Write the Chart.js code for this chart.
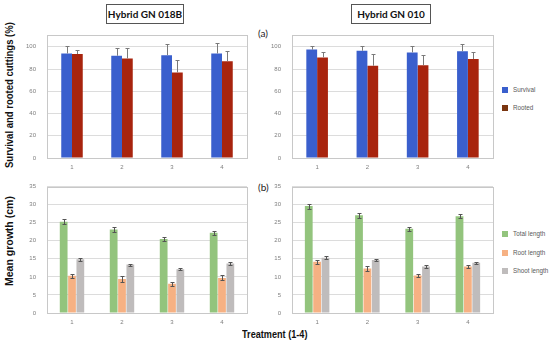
<!DOCTYPE html>
<html lang="en">
  <head>
    <meta charset="UTF-8" />
    <title>Survival and growth of cuttings</title>
    <script src="https://cdn.jsdelivr.net/npm/chart.js"></script>
    <style>
      body { margin: 0; background: #fff; width: 550px; height: 343px; position: relative; overflow: hidden; font-family: "Liberation Sans", Arial, sans-serif; }
      canvas { position: absolute; }
      .title-box { position: absolute; border: 1px solid #555; background: #fff; font: bold 10px Lato, "Liberation Sans", sans-serif; color: #111; text-align: center; box-sizing: border-box; line-height: 18px; white-space: nowrap; }
      .tag { position: absolute; font: 10px Lato, "Liberation Sans", sans-serif; color: #222; }
      .ylab { position: absolute; font: bold 11px "Liberation Sans", Arial, sans-serif; color: #111; white-space: nowrap; transform-origin: 0 0; line-height: 12px; }
      .xlab { position: absolute; font: bold 11px "Liberation Sans", Arial, sans-serif; color: #111; white-space: nowrap; transform-origin: 0 0; transform: scaleX(0.83); }
      .leg { position: absolute; font: 6.3px "Liberation Sans", Arial, sans-serif; color: #595959; white-space: nowrap; }
      .leg span { display: inline-block; width: 6px; height: 6px; margin-right: 5px; vertical-align: -1px; }
    </style>
  </head>
  <body>
    <div class="title-box" style="left:106px;top:4px;width:78px;height:20px;">Hybrid GN 018B</div>
    <div class="title-box" style="left:351px;top:4px;width:80px;height:20px;">Hybrid GN 010</div>
    <div class="tag" style="left:258px;top:27px;">(a)</div>
    <div class="tag" style="left:258px;top:181px;">(b)</div>
    <div class="ylab" style="left:3px;top:168px;transform:rotate(-90deg) scaleX(0.865);">Survival and rooted cuttings (%)</div>
    <div class="ylab" style="left:3px;top:286px;transform:rotate(-90deg) scaleX(0.955);">Mean growth (cm)</div>
    <div class="xlab" style="left:242px;top:328px;">Treatment (1-4)</div>

    <div class="leg" style="left:502px;top:86px;"><span style="background:#3a5fcd"></span>Survival</div>
    <div class="leg" style="left:502px;top:104px;"><span style="background:#7a3510"></span>Rooted</div>
    <div class="leg" style="left:502px;top:230px;"><span style="background:#93c47d"></span>Total length</div>
    <div class="leg" style="left:502px;top:249px;"><span style="background:#f6b183"></span>Root length</div>
    <div class="leg" style="left:502px;top:267px;"><span style="background:#bfbcbc"></span>Shoot length</div>

    <canvas id="survival018B" width="230" height="155" style="left:20px;top:20px;"></canvas>
    <canvas id="survival010" width="230" height="155" style="left:265px;top:20px;"></canvas>
    <canvas id="growth018B" width="230" height="158" style="left:20px;top:172px;"></canvas>
    <canvas id="growth010" width="230" height="158" style="left:265px;top:172px;"></canvas>

    <script>
      const treatments = ["1", "2", "3", "4"];

      // (a) survival and rooted cuttings, %
      const survival018B = [94, 92, 92.5, 94];
      const survival018BErr = [6.5, 7, 10, 9];
      const rooted018B = [93.5, 89.5, 77, 87];
      const rooted018BErr = [4, 9, 11.5, 9];

      const survival010 = [97.5, 96.5, 95, 96];
      const survival010Err = [3.5, 4, 5.5, 6.5];
      const rooted010 = [90.5, 83, 83.5, 89];
      const rooted010Err = [5, 10.5, 9.5, 6.5];

      // (b) mean growth, cm
      const total018B = [25.3, 23.1, 20.5, 22.2];
      const total018BErr = [0.7, 0.6, 0.6, 0.6];
      const root018B = [10.3, 9.4, 8.1, 9.7];
      const root018BErr = [0.6, 0.9, 0.6, 0.7];
      const shoot018B = [14.9, 13.4, 12.1, 13.7];
      const shoot018BErr = [0.4, 0.3, 0.3, 0.3];

      const total010 = [29.6, 27.1, 23.3, 26.8];
      const total010Err = [0.7, 0.7, 0.6, 0.6];
      const root010 = [14.2, 12.3, 10.4, 12.9];
      const root010Err = [0.5, 0.6, 0.5, 0.4];
      const shoot010 = [15.3, 14.7, 12.9, 13.9];
      const shoot010Err = [0.4, 0.3, 0.4, 0.3];

      const percentTicks = [0, 20, 40, 60, 80, 100];
      const growthTicks = [0, 5, 10, 15, 20, 25, 30, 35];

      const colors = {
        survival: "#3a5fcd",
        rooted: "#a8240e",
        total: "#93c47d",
        root: "#f6b183",
        shoot: "#bfbcbc",
      };

      Chart.defaults.font.family = '"Liberation Sans", Arial, sans-serif';
      Chart.defaults.font.size = 6;
      Chart.defaults.color = "#7f7f7f";

      // draws the plot-area frame
      const frame = {
        id: "frame",
        beforeDatasetsDraw(chart) {
          const { ctx, chartArea: a } = chart;
          ctx.save();
          ctx.strokeStyle = "#c8c8c8";
          ctx.lineWidth = 1;
          ctx.strokeRect(Math.round(a.left) + 0.5, Math.round(a.top) + 0.5, Math.round(a.right - a.left), Math.round(a.bottom - a.top));
          ctx.restore();
        },
      };

      // error bars from each dataset's `errors` array
      const errorBars = {
        id: "errorBars",
        afterDatasetsDraw(chart, args, opts) {
          const ctx = chart.ctx;
          const y = chart.scales.y;
          chart.data.datasets.forEach((ds, i) => {
            if (!ds.errors) return;
            chart.getDatasetMeta(i).data.forEach((bar, j) => {
              const v = ds.data[j];
              const e = ds.errors[j];
              const x = Math.round(bar.x) + 0.5;
              const top = Math.round(y.getPixelForValue(v + e)) + 0.5;
              const bottom = opts.both ? Math.round(y.getPixelForValue(v - e)) + 0.5 : bar.y;
              ctx.save();
              ctx.strokeStyle = opts.color;
              ctx.lineWidth = 1;
              ctx.beginPath();
              ctx.moveTo(x, top);
              ctx.lineTo(x, bottom);
              ctx.moveTo(x - opts.cap, top);
              ctx.lineTo(x + opts.cap, top);
              if (opts.both) {
                ctx.moveTo(x - opts.cap, bottom);
                ctx.lineTo(x + opts.cap, bottom);
              }
              ctx.stroke();
              ctx.restore();
            });
          });
        },
      };

      function makeChart(id, datasets, opts) {
        return new Chart(document.getElementById(id), {
          type: "bar",
          data: { labels: treatments, datasets },
          plugins: [frame, errorBars],
          options: {
            responsive: false,
            animation: false,
            devicePixelRatio: 1,
            categoryPercentage: opts.catPct,
            barPercentage: opts.barPct,
            layout: { padding: { top: 8, right: opts.right, left: 0, bottom: 0 } },
            plugins: {
              legend: { display: false },
              tooltip: { enabled: false },
              errorBars: opts.err,
            },
            scales: {
              x: {
                grid: { display: false, drawTicks: false },
                border: { display: false },
                ticks: { padding: 6 },
                afterFit: (s) => { s.height = 17; },
              },
              y: {
                min: 0,
                max: opts.max,
                grid: { color: "#dcdcdc", drawTicks: false },
                border: { display: false },
                ticks: { padding: 11 },
                afterBuildTicks: (s) => { s.ticks = opts.ticks.map((v) => ({ value: v })); },
                afterFit: (s) => { s.width = 27; },
              },
            },
          },
        });
      }

      const pctOpts = { max: 111, ticks: percentTicks, catPct: 0.43, barPct: 1, right: 3, err: { color: "#7a7a7a", cap: 2, both: false } };
      const growthOpts = { max: 35, ticks: growthTicks, catPct: 0.5, barPct: 0.93, right: 3, err: { color: "#555", cap: 2, both: true } };

      makeChart("survival018B", [
        { label: "Survival", data: survival018B, errors: survival018BErr, backgroundColor: colors.survival },
        { label: "Rooted", data: rooted018B, errors: rooted018BErr, backgroundColor: colors.rooted },
      ], pctOpts);

      makeChart("survival010", [
        { label: "Survival", data: survival010, errors: survival010Err, backgroundColor: colors.survival },
        { label: "Rooted", data: rooted010, errors: rooted010Err, backgroundColor: colors.rooted },
      ], Object.assign({}, pctOpts, { right: 2 }));

      makeChart("growth018B", [
        { label: "Total length", data: total018B, errors: total018BErr, backgroundColor: colors.total },
        { label: "Root length", data: root018B, errors: root018BErr, backgroundColor: colors.root },
        { label: "Shoot length", data: shoot018B, errors: shoot018BErr, backgroundColor: colors.shoot },
      ], growthOpts);

      makeChart("growth010", [
        { label: "Total length", data: total010, errors: total010Err, backgroundColor: colors.total },
        { label: "Root length", data: root010, errors: root010Err, backgroundColor: colors.root },
        { label: "Shoot length", data: shoot010, errors: shoot010Err, backgroundColor: colors.shoot },
      ], Object.assign({}, growthOpts, { right: 2 }));
    </script>
  </body>
</html>
